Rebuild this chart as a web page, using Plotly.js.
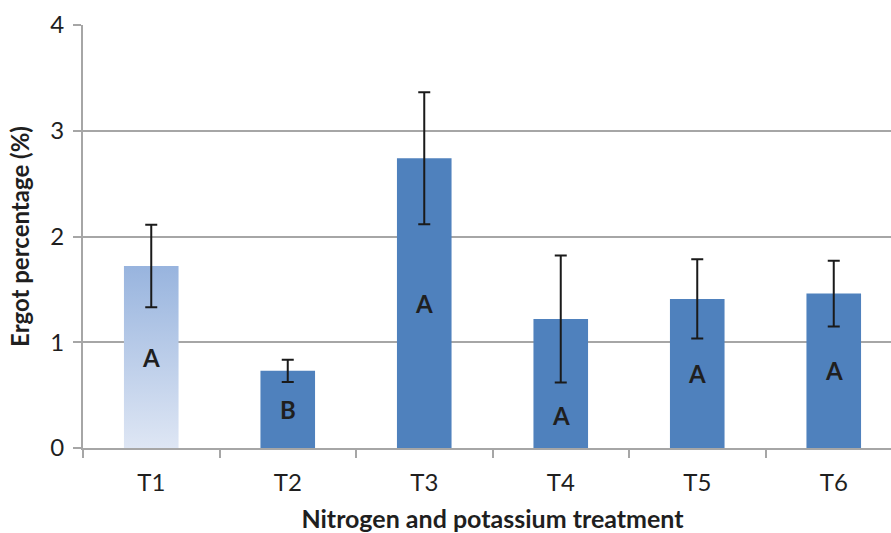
<!DOCTYPE html>
<html>
<head>
<meta charset="utf-8">
<script src="https://cdn.plot.ly/plotly-3.0.1.min.js"></script>
<style>
  html, body { margin: 0; padding: 0; background: #fff; overflow: hidden; }
  #chart { width: 903px; height: 533px; }
</style>
</head>
<body>
<div id="chart"></div>
<script>
// Ergot percentage by nitrogen/potassium treatment, mean ± standard error
const treatments = ['T1', 'T2', 'T3', 'T4', 'T5', 'T6'];
const ergotMean = [1.72, 0.73, 2.74, 1.22, 1.41, 1.46];
const ergotSE = [0.39, 0.105, 0.625, 0.60, 0.375, 0.31];
const groupLetters = ['A', 'B', 'A', 'A', 'A', 'A'];
const yTicks = [0, 1, 2, 3, 4];

const barBlue = '#4F81BD';
const gridGrey = '#a6a6a6';
const textDark = '#1f1f1f';
const fontFamily = 'Lato, "Open Sans", sans-serif';

// Letters sit in the middle of each bar; when the lower whisker reaches
// down into that middle, the letter drops into the free space beneath it.
const letterY = ergotMean.map((m, i) => {
  const low = m - ergotSE[i];
  return low < m / 2 + 0.15 ? low / 2 : m / 2;
});

const bars = {
  type: 'bar',
  x: treatments,
  y: ergotMean,
  width: 0.4,
  marker: { color: treatments.map(() => barBlue), line: { width: 0 } },
  error_y: {
    type: 'data',
    array: ergotSE,
    visible: true,
    color: '#1a1a1a',
    thickness: 2,
    width: 6
  },
  hoverinfo: 'x+y'
};

const letters = treatments.map((t, i) => ({
  x: t,
  y: letterY[i],
  xref: 'x',
  yref: 'y',
  text: groupLetters[i],
  showarrow: false,
  font: { family: fontFamily, size: 24, color: textDark, weight: 'bold' }
}));

const layout = {
  width: 903,
  height: 533,
  margin: { l: 83, r: 1, t: 25, b: 85 },
  paper_bgcolor: '#ffffff',
  plot_bgcolor: '#ffffff',
  showlegend: false,
  font: { family: fontFamily, color: textDark },
  xaxis: {
    type: 'category',
    range: [-0.5, 5.5],
    showline: true,
    linecolor: gridGrey,
    linewidth: 2,
    ticks: 'outside',
    tickson: 'boundaries',
    ticklen: 8,
    tickwidth: 2,
    tickcolor: gridGrey,
    tickfont: { family: fontFamily, size: 24, color: textDark },
    ticklabelstandoff: 12,
    showgrid: false,
    title: {
      text: 'Nitrogen and potassium treatment',
      font: { family: fontFamily, size: 25, color: textDark, weight: 'bold' },
      standoff: 20
    },
    automargin: false,
    fixedrange: true
  },
  yaxis: {
    range: [0, 4],
    tickvals: yTicks,
    ticktext: yTicks.map(String),
    showline: true,
    linecolor: gridGrey,
    linewidth: 2,
    ticks: 'outside',
    ticklen: 8,
    tickwidth: 2,
    tickcolor: gridGrey,
    tickfont: { family: fontFamily, size: 24, color: textDark },
    ticklabelstandoff: 4,
    showgrid: true,
    gridcolor: gridGrey,
    gridwidth: 2,
    zeroline: false,
    title: {
      text: 'Ergot percentage (%)',
      font: { family: fontFamily, size: 24, color: textDark, weight: 'bold' },
      standoff: 14
    },
    automargin: false,
    fixedrange: true
  },
  annotations: letters
};

Plotly.newPlot('chart', [bars], layout, { displayModeBar: false, staticPlot: true }).then(gd => {
  // T1 is drawn with a light vertical gradient fill
  const svg = gd.querySelector('.main-svg');
  const ns = 'http://www.w3.org/2000/svg';
  let defs = svg.querySelector('defs');
  if (!defs) { defs = document.createElementNS(ns, 'defs'); svg.insertBefore(defs, svg.firstChild); }
  const grad = document.createElementNS(ns, 'linearGradient');
  grad.setAttribute('id', 't1fill');
  grad.setAttribute('x1', '0'); grad.setAttribute('y1', '0');
  grad.setAttribute('x2', '0'); grad.setAttribute('y2', '1');
  [['0%', '#98b4de'], ['100%', '#dee6f4']].forEach(([off, col]) => {
    const s = document.createElementNS(ns, 'stop');
    s.setAttribute('offset', off);
    s.setAttribute('stop-color', col);
    grad.appendChild(s);
  });
  defs.appendChild(grad);
  const first = gd.querySelector('.barlayer .trace .point path');
  if (first) first.style.fill = 'url(#t1fill)';
});
</script>
</body>
</html>
